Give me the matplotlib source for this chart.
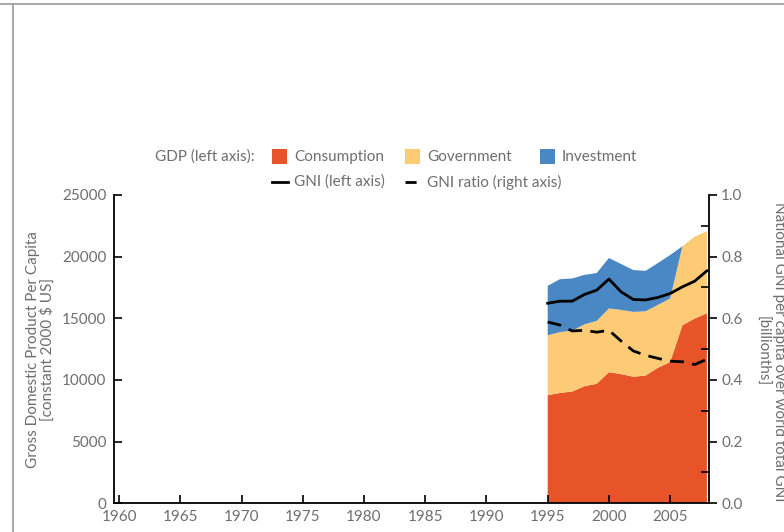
import matplotlib
matplotlib.use('Agg')
import matplotlib.pyplot as plt
from matplotlib.lines import Line2D
from matplotlib.patches import Rectangle
import numpy as np

# values
years = [1995, 1996, 1997, 1998, 1999, 2000, 2001, 2002, 2003, 2004, 2005, 2006, 2007, 2008]
consumption = [8760, 8950, 9060, 9490, 9690, 10630, 10470, 10260, 10360, 10990, 11450, 14430, 14980, 15410]
government = [4860, 4930, 4940, 5020, 5100, 5170, 5210, 5260, 5210, 5100, 5160, 6410, 6640, 6650]
investment = [4010, 4290, 4230, 4010, 3880, 4090, 3720, 3390, 3280, 3390, 3520, 0, 0, 0]
gni = [16220, 16390, 16390, 16930, 17280, 18180, 17140, 16520, 16490, 16690, 17010, 17550, 18010, 18850]
gni_ratio = [0.588, 0.578, 0.559, 0.561, 0.555, 0.561, 0.526, 0.494, 0.480, 0.470, 0.461, 0.459, 0.450, 0.467]

x_ticks = list(range(1960, 2010, 5))
left_ticks = [0, 5000, 10000, 15000, 20000, 25000]
right_ticks = [0.0, 0.2, 0.4, 0.6, 0.8, 1.0]

RED = '#e65428'
YELLOW = '#fdcb76'
BLUE = '#4a87c5'
GREY = '#6e6e6e'

plt.rcParams['font.family'] = ['Lato', 'DejaVu Sans']

fig = plt.figure(figsize=(7.84, 5.32), dpi=100)
ax = fig.add_axes([0.1448, 0.054, 0.904 - 0.1448, 0.6335 - 0.054])

ax.stackplot(years, consumption, government, investment,
             colors=[RED, YELLOW, BLUE], linewidth=0)
ax.plot(years, gni, color='black', lw=2)

ax.set_xlim(1959.55, 2008.15)
ax.set_ylim(0, 25000)
ax.set_xticks(x_ticks)
ax.set_yticks(left_ticks)
ax.tick_params(direction='in', length=6, width=1.2, colors='black',
               labelcolor=GREY, labelsize=11)
ax.tick_params(axis='y', pad=5)
ax.tick_params(axis='x', pad=5)
for lbl in ax.get_yticklabels():
    lbl.set_va('center_baseline')
for s in ['top', 'right']:
    ax.spines[s].set_visible(False)
for s in ['left', 'bottom']:
    ax.spines[s].set_linewidth(1.3)
ax.set_ylabel('Gross Domestic Product Per Capita\n[constant 2000 $ US]',
              color=GREY, fontsize=11, labelpad=5, linespacing=1.0)

ax2 = ax.twinx()
ax2.plot(years, gni_ratio, color='black', lw=2, dashes=(5, 3))
ax2.set_ylim(0, 1)
ax2.set_yticks(right_ticks)
ax2.set_yticklabels(['%.1f' % t for t in right_ticks])
ax2.set_yticks(np.arange(0.1, 1.0, 0.2), minor=True)
ax2.tick_params(axis='y', which='major', direction='out', length=6, width=1.2,
                labelcolor=GREY, labelsize=11, pad=3)
ax2.tick_params(axis='y', which='minor', direction='in', length=6, width=1.2)
for lbl in ax2.get_yticklabels():
    lbl.set_va('center_baseline')
for s in ['top', 'left', 'bottom']:
    ax2.spines[s].set_visible(False)
ax2.spines['right'].set_linewidth(1.3)

# right axis title, two lines placed separately (first one runs off the edge)
fig.text(779 / 784, 1 - 352 / 532, 'National GNI per capita over world total GNI',
         color=GREY, fontsize=11, rotation=270, ha='center', va='center')
fig.text(762 / 784, 1 - 351 / 532, '[billionths]',
         color=GREY, fontsize=11, rotation=270, ha='center', va='center')

# legend built by hand
fig.text(155 / 784, 1 - 157 / 532, 'GDP (left axis):', color=GREY, fontsize=11, va='center')
row1 = [(272, RED, 'Consumption'), (405, YELLOW, 'Government'), (540, BLUE, 'Investment')]
for px, col, lab in row1:
    fig.add_artist(Rectangle((px / 784, 1 - 164 / 532), 15 / 784, 15 / 532,
                             transform=fig.transFigure, color=col, lw=0))
    fig.text((px + 22) / 784, 1 - 157 / 532, lab, color=GREY, fontsize=11, va='center')
row2 = [(272, '-', 'GNI (left axis)'), (405, '--', 'GNI ratio (right axis)')]
for px, ls, lab in row2:
    if ls == '-':
        fig.add_artist(Line2D([px / 784, (px + 16) / 784], [1 - 182 / 532] * 2,
                              transform=fig.transFigure, color='black', lw=2))
    else:
        fig.add_artist(Line2D([px / 784, (px + 16) / 784], [1 - 182 / 532] * 2,
                              transform=fig.transFigure, color='black', lw=2, dashes=(4, 3)))
    fig.text((px + 22) / 784, 1 - 182 / 532, lab, color=GREY, fontsize=11, va='center')

# frame lines at top and left edge
fig.add_artist(Line2D([0, 1], [1 - 4 / 532] * 2, transform=fig.transFigure, color='#999999', lw=1.2))
fig.add_artist(Line2D([12.5 / 784] * 2, [0, 1 - 4 / 532], transform=fig.transFigure, color='#999999', lw=1.2))

fig.savefig('out.png', dpi=100)
